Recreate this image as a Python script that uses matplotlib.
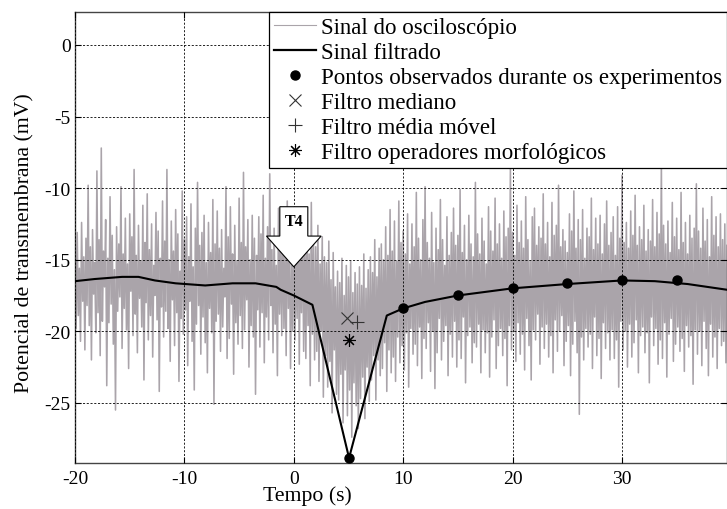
import numpy as np
import matplotlib
matplotlib.use('Agg')
from matplotlib import pyplot as plt
from matplotlib.lines import Line2D
from matplotlib.patches import FancyArrow

plt.rcParams['font.family'] = ['Liberation Serif', 'DejaVu Serif']
plt.rcParams['font.size'] = 14
plt.rcParams['axes.unicode_minus'] = False

# oscilloscope signal, 0.1 s per sample from -20 s to 39.6 s
t_start, t_end = -20.0, 39.6
osc = [
    -14.2, -19.8, -13.1, -18.9, -15.6, -20.7, -12.4, -17.9, -14.8, -21.3,
    -13.5, -18.2, -9.8, -19.6, -14.1, -22.0, -12.9, -17.4, -15.2, -20.1,
    -8.8, -18.7, -13.6, -21.7, -7.2, -19.3, -14.4, -16.9, -12.2, -23.8,
    -14.9, -19.4, -10.6, -18.1, -13.3, -20.9, -15.7, -25.5, -12.7, -18.6,
    -13.9, -17.6, -9.9, -21.2, -14.6, -18.4, -12.1, -19.9, -15.3, -22.6,
    -11.8, -17.2, -13.4, -20.3, -8.7, -18.8, -14.7, -21.5, -12.6, -17.7,
    -15.1, -19.7, -11.2, -23.4, -13.8, -18.0, -10.4, -20.6, -14.3, -18.9,
    -12.5, -21.8, -15.4, -17.5, -11.7, -19.2, -13.0, -24.2, -14.9, -18.3,
    -10.9, -20.4, -13.7, -18.6, -8.7, -19.8, -15.0, -22.1, -12.3, -17.8,
    -14.4, -21.0, -11.5, -18.7, -13.2, -23.5, -15.8, -19.1, -10.2, -20.2,
    -13.6, -18.5, -12.0, -22.4, -14.8, -17.9, -11.1, -20.7, -15.5, -24.1,
    -12.8, -19.5, -9.6, -18.2, -14.0, -21.6, -13.1, -19.0, -11.9, -20.8,
    -15.2, -22.9, -12.4, -18.4, -14.5, -20.1, -10.8, -25.1, -13.9, -19.3,
    -11.6, -18.8, -14.2, -21.4, -12.9, -19.7, -15.6, -17.6, -9.9, -21.9,
    -13.4, -20.5, -11.3, -18.1, -14.6, -23.0, -12.6, -19.4, -15.1, -20.9,
    -10.7, -18.9, -13.8, -21.2, -8.9, -19.9, -14.1, -17.8, -12.2, -22.5,
    -15.0, -19.6, -11.9, -20.4, -13.5, -24.4, -14.7, -18.5, -12.0, -21.1,
    -13.2, -18.7, -10.5, -22.2, -14.9, -19.0, -12.7, -20.6, -9.0, -18.2,
    -14.3, -21.5, -12.8, -19.5, -15.4, -23.1, -11.4, -18.8, -13.7, -20.3,
    -12.1, -19.8, -14.6, -21.7, -10.9, -18.4, -13.3, -22.6, -15.2, -20.0,
    -12.9, -20.6, -14.0, -19.1, -11.6, -22.3, -13.8, -18.7, -12.4, -21.4,
    -13.5, -21.9, -12.2, -19.6, -14.6, -23.8, -11.0, -20.2, -13.9, -22.0,
    -14.1, -21.4, -12.6, -23.5, -15.3, -20.0, -13.4, -24.6, -14.8, -21.7,
    -15.2, -23.9, -13.7, -22.1, -16.4, -25.7, -14.5, -21.3, -16.9, -24.4,
    -15.8, -24.8, -16.6, -23.0, -14.9, -26.4, -17.5, -22.7, -15.4, -25.9,
    -16.2, -24.1, -15.1, -27.4, -17.3, -23.6, -15.9, -25.2, -16.7, -26.8,
    -15.5, -24.7, -16.8, -23.2, -14.6, -26.1, -17.0, -22.5, -15.7, -24.9,
    -14.8, -23.4, -15.9, -21.7, -13.6, -24.8, -16.2, -22.0, -14.2, -23.1,
    -13.9, -22.6, -15.0, -20.8, -12.7, -24.2, -14.7, -21.3, -11.5, -22.9,
    -14.4, -21.8, -12.3, -23.5, -15.1, -20.4, -10.9, -22.2, -13.8, -21.0,
    -13.0, -22.7, -14.6, -20.1, -11.8, -23.9, -15.3, -19.8, -12.5, -21.6,
    -14.1, -20.9, -10.3, -22.4, -13.5, -19.7, -15.0, -23.3, -12.2, -20.5,
    -9.9, -21.2, -13.8, -19.4, -14.9, -22.8, -11.7, -20.0, -15.2, -24.0,
    -12.8, -21.5, -14.3, -19.1, -10.8, -22.0, -13.6, -20.7, -15.4, -19.6,
    -12.0, -23.1, -14.7, -20.2, -13.1, -21.8, -11.4, -19.3, -14.0, -22.5,
    -13.3, -20.6, -10.1, -21.9, -14.5, -19.0, -12.6, -23.6, -15.0, -20.3,
    -11.9, -19.7, -13.9, -22.2, -14.8, -20.8, -9.6, -21.1, -13.2, -19.5,
    -14.6, -22.9, -12.1, -19.9, -13.7, -21.5, -15.3, -20.1, -11.3, -23.2,
    -13.0, -20.4, -14.4, -19.2, -10.7, -22.6, -13.9, -21.0, -12.5, -19.8,
    -14.9, -21.7, -11.6, -20.5, -13.4, -23.8, -12.8, -19.6, -8.6, -21.3,
    -13.1, -20.0, -14.7, -22.1, -11.2, -19.4, -13.8, -21.6, -12.3, -20.2,
    -14.2, -22.7, -10.6, -19.1, -13.6, -21.0, -15.1, -23.4, -12.0, -19.9,
    -11.4, -20.6, -14.0, -18.8, -12.7, -22.3, -13.5, -19.7, -10.4, -21.2,
    -13.9, -19.5, -12.4, -21.8, -14.8, -20.3, -11.0, -22.9, -13.3, -19.2,
    -12.6, -21.4, -9.8, -20.0, -14.1, -18.9, -12.9, -22.4, -13.7, -20.7,
    -14.5, -19.6, -11.8, -23.1, -13.0, -20.9, -10.2, -19.3, -14.2, -21.5,
    -12.2, -25.8, -13.6, -20.4, -11.5, -22.0, -14.9, -19.8, -12.8, -21.1,
    -13.4, -20.2, -10.7, -22.6, -14.3, -19.0, -12.1, -21.7, -13.9, -20.5,
    -11.9, -23.3, -14.6, -19.4, -12.5, -21.2, -10.9, -20.1, -14.0, -22.0,
    -13.1, -19.9, -12.0, -21.9, -14.7, -20.6, -11.3, -23.9, -13.5, -19.3,
    -9.1, -21.3, -13.8, -20.0, -12.4, -22.5, -14.2, -19.5, -11.6, -21.8,
    -13.3, -20.8, -10.5, -19.2, -14.0, -22.9, -12.7, -20.3, -13.6, -19.7,
    -11.2, -21.5, -14.4, -20.1, -12.9, -23.6, -13.7, -19.0, -10.8, -21.0,
    -14.1, -19.8, -11.7, -22.3, -13.2, -20.6, -8.2, -21.9, -12.6, -19.4,
    -13.9, -23.2, -12.3, -20.2, -14.5, -19.1, -11.0, -22.1, -13.4, -20.9,
    -12.1, -19.7, -14.3, -21.4, -10.3, -20.5, -13.8, -22.8, -12.4, -19.6,
    -14.6, -21.1, -11.9, -20.3, -13.5, -23.7, -12.8, -19.9, -9.7, -21.6,
    -13.0, -20.0, -14.2, -22.4, -11.4, -19.3, -13.7, -21.2, -12.2, -23.1,
    -14.8, -19.5, -10.6, -21.8, -13.3, -20.4, -12.0, -22.6, -14.1, -19.8,
    -11.8, -21.0, -13.6, -20.7, -12.5, -22.2, -14.0,
]
t_osc = np.linspace(t_start, t_end, len(osc))

# filtered signal
t_filt = [-20, -18.2, -15.7, -14.2, -12.7, -10.8, -8.1, -5.6, -3.5, -1.6, -1.2, 0, 1.7,
          5.05, 8.5, 10, 12, 15, 20, 25, 30, 33, 36, 39.6]
v_filt = [-16.5, -16.35, -16.2, -16.2, -16.45, -16.65, -16.8, -16.65, -16.65, -16.9, -17.1,
          -17.5, -18.15, -28.85, -18.9, -18.4, -17.95, -17.5, -17.0, -16.7, -16.45, -16.5,
          -16.7, -17.1]

# points observed during the experiments
t_obs = [5, 10, 15, 20, 25, 30, 35]
v_obs = [-28.85, -18.4, -17.5, -16.95, -16.65, -16.4, -16.4]

# filter results
median_pt = (4.9, -19.05)
movavg_pt = (5.8, -19.35)
morph_pt = (5.0, -20.6)

labels = ['Sinal do osciloscópio', 'Sinal filtrado',
          'Pontos observados durante os experimentos', 'Filtro mediano',
          'Filtro média móvel', 'Filtro operadores morfológicos']

gray = '#aaa4aa'
asterisk = (8, 2, 0)

fig = plt.figure(figsize=(7.27, 5.10), dpi=100)
ax = fig.add_axes([0.1032, 0.0902, 0.8968, 0.8843])

ax.plot(t_osc, osc, color=gray, lw=1.15, zorder=1)
ax.plot(t_filt, v_filt, color='black', lw=1.5, zorder=3)
ax.plot(t_obs, v_obs, 'o', color='black', ms=6.5, zorder=4)
ax.plot(*median_pt, marker='x', color='#333333', ms=8, mew=0.8, ls='none', zorder=4)
ax.plot(*movavg_pt, marker='+', color='#333333', ms=10, mew=0.8, ls='none', zorder=4)
ax.plot(*morph_pt, marker=asterisk, color='black', ms=9, mew=0.8, ls='none', zorder=4)

# T4 arrow
arr = FancyArrow(0, -11.3, 0, -4.2, width=2.56, head_width=5.0, head_length=2.15,
                 length_includes_head=True, facecolor='white', edgecolor='black',
                 lw=0.8, zorder=5)
ax.add_patch(arr)
ax.text(0, -12.3, 'T4', ha='center', va='center', fontsize=11.5, fontweight='bold', zorder=6)

ax.set_xlim(-20, 39.6)
ax.set_ylim(-29.2, 2.3)
ax.set_xticks([-20, -10, 0, 10, 20, 30])
ax.set_yticks([-25, -20, -15, -10, -5, 0])
ax.tick_params(direction='in', length=4, top=True, right=True, labelsize=14)
ax.tick_params(axis='x', pad=5)
ax.tick_params(axis='y', pad=3)
ax.set_axisbelow(False)
ax.grid(True, color='black', linestyle=(0, (2.5, 2)), lw=0.6)
for s in ax.spines.values():
    s.set_color('#444444')
    s.set_linewidth(1.0)

ax.set_xlabel('Tempo (s)', fontsize=15.7)
ax.xaxis.set_label_coords(0.356, -0.05)
ax.set_ylabel('Potencial de transmembrana (mV)', fontsize=15.7)
ax.yaxis.set_label_coords(-0.062, 0.49)

handles = [Line2D([], [], color=gray, lw=0.8),
           Line2D([], [], color='black', lw=1.6),
           Line2D([], [], marker='o', color='black', ls='none', ms=6.5),
           Line2D([], [], marker='x', color='#333333', ls='none', ms=8, mew=0.8),
           Line2D([], [], marker='+', color='#333333', ls='none', ms=10, mew=0.8),
           Line2D([], [], marker=asterisk, color='black', ls='none', ms=9, mew=0.8)]
leg = ax.legend(handles, labels, loc='upper right', borderaxespad=0, fancybox=False,
                framealpha=1, edgecolor='black', fontsize=16.5, handlelength=1.85,
                handletextpad=0.2, labelspacing=0.17, borderpad=0.22)
leg.get_frame().set_linewidth(0.9)
leg.set_zorder(10)

fig.savefig('out.png', dpi=100)
